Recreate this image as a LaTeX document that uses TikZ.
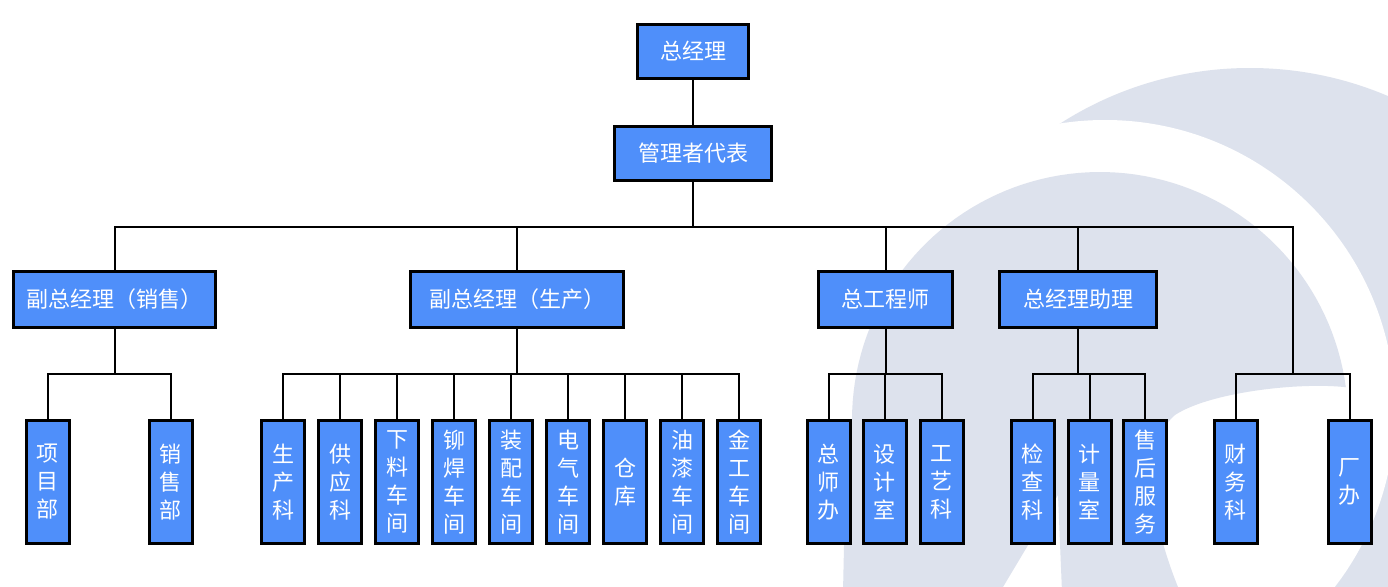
\documentclass[tikz,border=0pt]{standalone}
\usepackage{fontspec}
\newfontfamily\cjk{Noto Sans CJK SC}
\definecolor{boxblue}{RGB}{79,143,250}
\definecolor{wm}{RGB}{221,226,237}
\begin{document}
\begin{tikzpicture}[x=1pt,y=-1pt,
  box/.style={draw=black, line width=3pt, fill=boxblue, text=white, inner sep=0pt,
    font=\cjk\fontsize{22pt}{28pt}\selectfont},
  top/.style={box, minimum height=54pt},
  leaf/.style={box, minimum width=43pt, minimum height=123pt, align=center},
  conn/.style={line width=2pt, black}]
\useasboundingbox (0,0) rectangle (1388,586);
% watermark
\begin{scope}
\clip (0,0) rectangle (1388,586);
\fill[white] (0,0) rectangle (1388,586);
\fill[wm] (1250,420) circle[radius=352pt];
\fill[white] (1105,410) circle[radius=290pt];
\fill[wm] plot[domain=7.6:180, samples=80, variable=\t] ({1100+248*cos(\t)},{420-248*sin(\t)})
  -- (845,500) -- (843,592) -- (1000,592) -- (1058,495) -- (1062,592) -- (1180,592)
  .. controls (1150,520) and (1140,445) .. (1175,415)
  .. controls (1210,392) and (1300,382) .. (1345.8,387.2) -- cycle;
\end{scope}
% coordinates of buses
\coordinate (bus) at (0,227);
\coordinate (sb) at (0,374);
\coordinate (fj) at (1293,374);
% nodes
\node[top, minimum width=111pt] (gm) at (693,51.5) {总经理};
\node[top, minimum width=157pt] (rep) at (693,153.5) {管理者代表};
\node[top, minimum width=202pt, minimum height=56pt] (vs) at (114.5,299.5) {副总经理（销售）};
\node[top, minimum width=213pt, minimum height=56pt] (vp) at (517,299.5) {副总经理（生产）};
\node[top, minimum width=134pt, minimum height=56pt] (ce) at (885.5,299.5) {总工程师};
\node[top, minimum width=157pt, minimum height=56pt] (ga) at (1078,299.5) {总经理助理};
% leaves
\node[leaf] (l1) at (47.5,482) {项\\目\\部};
\node[leaf] (l2) at (170.5,482) {销\\售\\部};
\node[leaf] (p1) at (283,482) {生\\产\\科};
\node[leaf] (p2) at (340,482) {供\\应\\科};
\node[leaf] (p3) at (397,482) {下\\料\\车\\间};
\node[leaf] (p4) at (454,482) {铆\\焊\\车\\间};
\node[leaf] (p5) at (511,482) {装\\配\\车\\间};
\node[leaf] (p6) at (568,482) {电\\气\\车\\间};
\node[leaf] (p7) at (625,482) {仓\\库};
\node[leaf] (p8) at (682,482) {油\\漆\\车\\间};
\node[leaf] (p9) at (739,482) {金\\工\\车\\间};
\node[leaf] (e1) at (828.5,482) {总\\师\\办};
\node[leaf] (e2) at (884.5,482) {设\\计\\室};
\node[leaf] (e3) at (941.5,482) {工\\艺\\科};
\node[leaf] (a1) at (1032.5,482) {检\\查\\科};
\node[leaf] (a2) at (1089.5,482) {计\\量\\室};
\node[leaf] (a3) at (1145,482) {售\\后\\服\\务};
\node[leaf] (f1) at (1235.5,482) {财\\务\\科};
\node[leaf] (f2) at (1349.5,482) {厂\\办};
% connectors
\begin{scope}[on background layer/.style={}]
\draw[conn] (gm) -- (rep);
\draw[conn] (rep.south) -- (rep.south |- bus);
\draw[conn] (vs.north) |- (rep.south |- bus) -| (fj);
\draw[conn] (vp.north) -- (vp.north |- bus);
\draw[conn] (ce.north) -- (ce.north |- bus);
\draw[conn] (ga.north) -- (ga.north |- bus);
% sales
\draw[conn] (vs.south) -- (vs.south |- sb);
\draw[conn] (l1.north) |- (vs.south |- sb) -| (l2.north);
% production
\draw[conn] (vp.south) -- (vp.south |- sb);
\draw[conn] (p1.north) |- (vp.south |- sb) -| (p9.north);
\foreach \n in {p2,p3,p4,p5,p6,p7,p8} \draw[conn] (\n.north) -- (\n.north |- sb);
% engineering
\draw[conn] (ce.south) -- (ce.south |- sb);
\draw[conn] (e1.north) |- (ce.south |- sb) -| (e3.north);
\draw[conn] (e2.north) -- (e2.north |- sb);
% assistant
\draw[conn] (ga.south) -- (ga.south |- sb);
\draw[conn] (a1.north) |- (ga.south |- sb) -| (a3.north);
\draw[conn] (a2.north) -- (a2.north |- sb);
% finance / office
\draw[conn] (f1.north) |- (fj) -| (f2.north);
\end{scope}
\end{tikzpicture}
\end{document}
